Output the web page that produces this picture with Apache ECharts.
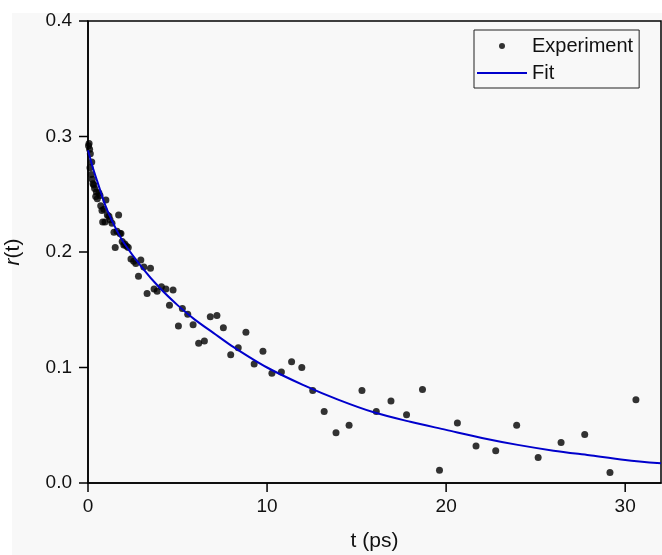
<!DOCTYPE html>
<html>
<head>
<meta charset="utf-8">
<script src="https://cdn.jsdelivr.net/npm/echarts@6/dist/echarts.min.js"></script>
<style>
html,body{margin:0;padding:0;background:#fff;}
#chart{width:662px;height:555px;}
</style>
</head>
<body>
<div id="chart"></div>
<script>
// Experimental points (t in ps, r(t))
const expT = [0.03,0.06,0.09,0.11,0.13,0.18,0.21,0.24,0.28,0.33,0.37,0.43,0.47,0.52,0.61,0.67,0.71,0.78,0.82,0.89,0.95,1.00,1.08,1.17,1.23,1.34,1.45,1.52,1.62,1.71,1.78,1.84,1.91,2.00,2.06,2.16,2.25,2.40,2.55,2.67,2.82,2.95,3.12,3.30,3.49,3.69,3.86,4.10,4.35,4.55,4.75,5.05,5.27,5.57,5.87,6.18,6.50,6.83,7.20,7.56,7.97,8.39,8.82,9.28,9.77,10.27,10.80,11.37,11.94,12.55,13.19,13.85,14.58,15.30,16.10,16.92,17.79,18.68,19.63,20.63,21.67,22.77,23.94,25.14,26.42,27.74,29.15,30.60];
const expR = [0.292,0.294,0.289,0.273,0.285,0.267,0.278,0.263,0.259,0.258,0.255,0.248,0.252,0.246,0.251,0.249,0.240,0.236,0.226,0.237,0.226,0.245,0.232,0.231,0.228,0.225,0.217,0.204,0.218,0.232,0.216,0.216,0.209,0.206,0.207,0.205,0.204,0.194,0.192,0.190,0.179,0.193,0.187,0.164,0.186,0.168,0.166,0.170,0.168,0.154,0.167,0.136,0.151,0.146,0.137,0.121,0.123,0.144,0.145,0.1345,0.111,0.117,0.1305,0.103,0.114,0.095,0.096,0.105,0.100,0.080,0.062,0.0435,0.050,0.080,0.062,0.071,0.059,0.081,0.011,0.052,0.032,0.028,0.050,0.022,0.035,0.042,0.009,0.072];
// Fit curve
const fitT = [0,0.25,0.5,1,1.5,2,3,4,5,6,7,8,10,12,14,16,18,20,22,24,26,28,30,32];
const fitR = [0.288,0.274,0.262,0.239,0.222,0.208,0.187,0.169,0.154,0.141,0.130,0.119,0.100,0.085,0.072,0.061,0.053,0.046,0.039,0.033,0.028,0.024,0.020,0.017];
const xTicks = [0,10,20,30];
const yTicks = [0.0,0.1,0.2,0.3,0.4];

const chart = echarts.init(document.getElementById('chart'), null, {renderer:'canvas'});
const font = 'Liberation Sans, Arial, sans-serif';
const txt = '#111';
const bgRect = {id:'bg',type:'rect',z:-10,silent:true,shape:{x:12,y:13,width:650,height:542},style:{fill:'#f8f8f8'}};
chart.setOption({
  animation:false,
  backgroundColor:'#ffffff',
  graphic:[bgRect],
  grid:{left:88,top:21,right:1,bottom:72,outerBoundsMode:'none',
        show:true,borderColor:'#000',borderWidth:1.5,backgroundColor:'transparent'},
  legend:{
    orient:'vertical',left:474,top:30,
    padding:[6,6,5,2],itemGap:7,itemWidth:50,itemHeight:6,
    borderColor:'#222',borderWidth:1,backgroundColor:'transparent',
    textStyle:{color:txt,fontSize:20,fontFamily:font,lineHeight:20},
    data:[{name:'Experiment',icon:'circle'},{name:'Fit',itemStyle:{opacity:0}}]
  },
  xAxis:{
    type:'value',min:0,max:32,interval:10,
    name:'t (ps)',nameLocation:'middle',nameGap:48,
    nameTextStyle:{color:txt,fontSize:21,fontFamily:font},
    axisLine:{show:true,onZero:false,lineStyle:{color:'#000',width:1.5}},
    axisTick:{show:false},
    splitLine:{show:false},
    axisLabel:{color:txt,fontSize:19,fontFamily:font,margin:6,padding:[8,0,0,0],
      formatter:v=>xTicks.includes(v)?String(v):''}
  },
  yAxis:{
    type:'value',min:0,max:0.4,interval:0.1,
    name:'{i|r}(t)',nameLocation:'middle',nameGap:64,nameRotate:90,
    nameTextStyle:{color:txt,fontSize:21,fontFamily:font,
      rich:{i:{fontStyle:'italic',fontSize:21,fontFamily:font,color:txt}}},
    axisLine:{show:true,onZero:false,lineStyle:{color:'#000',width:1.5}},
    axisTick:{show:false},
    splitLine:{show:false},
    axisLabel:{color:txt,fontSize:19,fontFamily:font,margin:7,padding:[0,9,0,0],
      formatter:v=>{const t=yTicks.find(k=>Math.abs(k-v)<1e-9);return t===undefined?'':t.toFixed(1);}}
  },
  series:[
    {name:'Experiment',type:'scatter',symbol:'circle',symbolSize:7,
     itemStyle:{color:'#000'},z:3,
     data:expT.map((t,i)=>[t,expR[i]])},
    {name:'Fit',type:'line',symbol:'none',smooth:0.3,
     lineStyle:{color:'#0000cc',width:2},itemStyle:{color:'#0000cc'},z:4,
     data:fitT.map((t,i)=>[t,fitR[i]])}
  ]
});
// Outward major ticks at the labelled values, positioned through the chart's own scales,
// drawn on a top layer so nothing can cover them
const tickLen = 9;
const ticks = [];
xTicks.forEach((v,i)=>{
  const p = chart.convertToPixel({gridIndex:0},[v,0]);
  if (p && isFinite(p[0]) && isFinite(p[1])) {
    ticks.push({id:'xt'+i,type:'rect',zlevel:1,z:50,silent:true,
      shape:{x:p[0]-0.75,y:p[1],width:1.5,height:tickLen},style:{fill:'#000'}});
  }
});
yTicks.forEach((v,i)=>{
  const p = chart.convertToPixel({gridIndex:0},[0,v]);
  if (p && isFinite(p[0]) && isFinite(p[1])) {
    ticks.push({id:'yt'+i,type:'rect',zlevel:1,z:50,silent:true,
      shape:{x:p[0]-tickLen,y:p[1]-0.75,width:tickLen,height:1.5},style:{fill:'#000'}});
  }
});
chart.setOption({graphic:[bgRect].concat(ticks)});
</script>
</body>
</html>
